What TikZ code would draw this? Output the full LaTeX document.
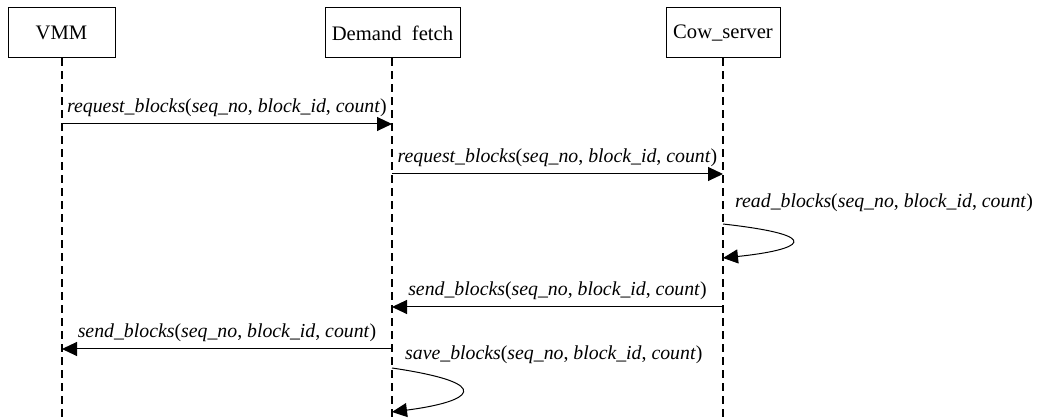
\documentclass[tikz,border=0pt]{standalone}
\usepackage{fontspec}
\setmainfont{Liberation Serif}
\usetikzlibrary{arrows.meta}
\tikzset{
  obj/.style={draw, line width=1pt, minimum height=50pt, inner sep=2pt, font=\fontsize{20.6}{24}\selectfont},
  life/.style={line width=1.8pt, dash pattern=on 8pt off 5pt},
  msg/.style={line width=1pt, -{Triangle[length=15pt,width=14pt]}},
  lbl/.style={font=\fontsize{19.8}{23}\selectfont, inner sep=2pt},
}
\newcommand{\callsig}[1]{\textit{#1}(\textit{seq\_no}, \textit{block\_id}, \textit{count})}
\begin{document}
\begin{tikzpicture}[x=1pt,y=-1pt]
\useasboundingbox (0,0) rectangle (1037,419);
% objects
\node[obj, minimum width=107pt] (vmm) at (61.5,33) {VMM};
\node[obj, minimum width=135pt] (df) at (392.5,33) {Demand\ \ fetch};
\node[obj, minimum width=114pt] (cow) at (723,33) {Cow\_server};
% lifeline ends
\coordinate (vmmEnd) at (62,419);
\coordinate (dfEnd) at (392,419);
\coordinate (cowEnd) at (723,419);
\draw[life] (vmm.south -| vmmEnd) -- (vmmEnd);
\draw[life] (df.south -| dfEnd) -- (dfEnd);
\draw[life] (cow.south -| cowEnd) -- (cowEnd);
% message points
\coordinate (v1) at (62,124);  \coordinate (d1) at (392,124);
\coordinate (d2) at (392,174); \coordinate (c2) at (723,174);
\coordinate (c3a) at (723,224); \coordinate (c3b) at (723,258);
\coordinate (c4) at (723,307); \coordinate (d4) at (392,307);
\coordinate (d5) at (392,349); \coordinate (v5) at (62,349);
\coordinate (d6a) at (392,368); \coordinate (d6b) at (392,412);
% messages
\draw[msg] (v1) -- node[lbl, above=5pt] (m1) {\callsig{request\_blocks}} (d1);
\draw[msg] (d2) -- node[lbl, above=5pt] (m2) {\callsig{request\_blocks}} (c2);
\draw[msg] (c3a) .. controls (830,236) and (800,250) .. (c3b);
\node[lbl, anchor=west] (m3) at (733,203) {\callsig{read\_blocks}};
\draw[msg] (c4) -- node[lbl, above=5pt] (m4) {\callsig{send\_blocks}} (d4);
\draw[msg] (d5) -- node[lbl, above=5pt] (m5) {\callsig{send\_blocks}} (v5);
\draw[msg] (d6a) .. controls (500,384) and (470,402) .. (d6b);
\node[lbl, anchor=west] (m6) at (403,355) {\callsig{save\_blocks}};
\end{tikzpicture}
\end{document}
